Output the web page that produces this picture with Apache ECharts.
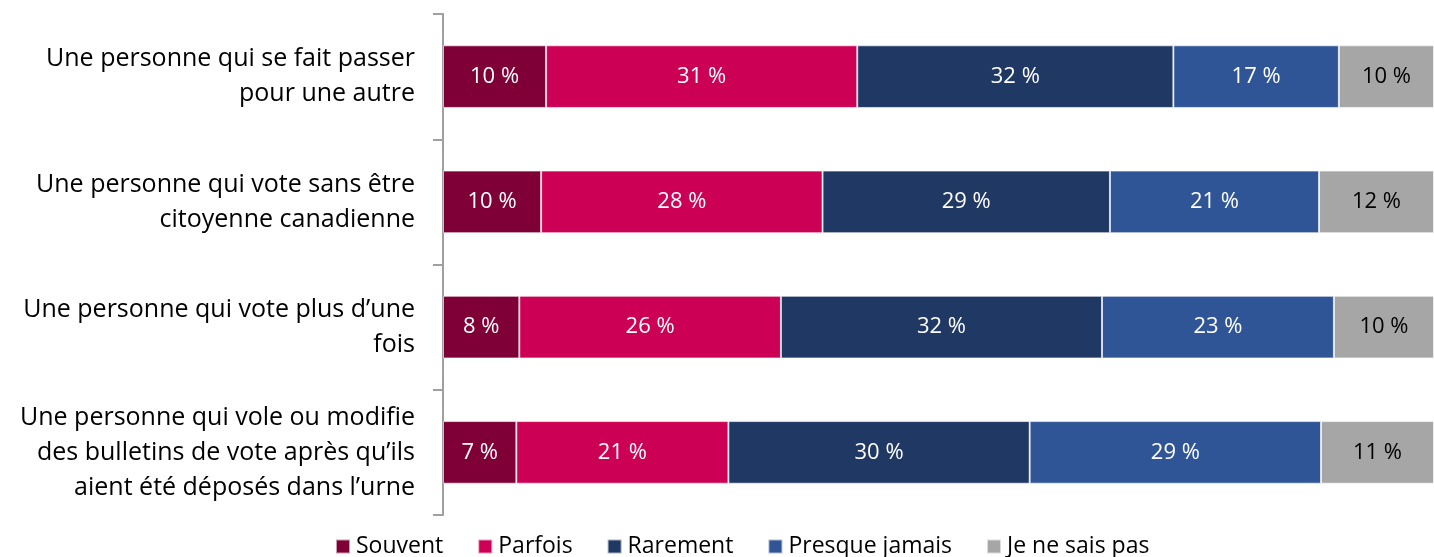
<!DOCTYPE html>
<html>
<head>
<meta charset="utf-8">
<script src="https://cdn.jsdelivr.net/npm/echarts@6/dist/echarts.min.js"></script>
<style>
  html, body { margin: 0; padding: 0; background: #fff; }
  #chart { width: 1434px; height: 557px; }
</style>
</head>
<body>
<div id="chart"></div>
<script>
// --- données ---
const categories = [
  'Une personne qui se fait passer\npour une autre',
  'Une personne qui vote sans être\ncitoyenne canadienne',
  'Une personne qui vote plus d’une\nfois',
  'Une personne qui vole ou modifie\ndes bulletins de vote après qu’ils\naient été déposés dans l’urne'
]
const seriesNames = ['Souvent', 'Parfois', 'Rarement', 'Presque jamais', 'Je ne sais pas']
const souvent = [10.4, 9.9, 7.7, 7.4]
const parfois = [31.4, 28.4, 26.4, 21.4]
const rarement = [31.9, 29.0, 32.4, 30.4]
const presqueJamais = [16.7, 21.1, 23.4, 29.4]
const neSaisPas = [9.6, 11.6, 10.1, 11.4]

const values = [souvent, parfois, rarement, presqueJamais, neSaisPas]
const colors = ['#7F0037', '#CC0055', '#203864', '#2F5597', '#A6A6A6']
const labelColors = ['#fff', '#fff', '#fff', '#fff', '#000']
const font = '"Open Sans", Lato, sans-serif'

const myChart = echarts.init(document.getElementById('chart'))

const option = {
  backgroundColor: '#fff',
  animation: false,
  grid: { left: 443, right: 0, top: 14, bottom: 42 },
  legend: {
    top: 530,
    left: 330,
    itemWidth: 14,
    itemHeight: 14,
    itemGap: 34,
    icon: 'rect',
    textStyle: { fontFamily: font, fontSize: 23, color: '#000', padding: [0, 0, 0, 1] },
    data: seriesNames
  },
  xAxis: {
    type: 'value',
    min: 0,
    max: 100,
    show: false
  },
  yAxis: {
    type: 'category',
    inverse: true,
    data: categories,
    axisLine: { lineStyle: { color: '#A0A0A0', width: 2 } },
    axisTick: { show: true, length: 10, lineStyle: { color: '#A0A0A0', width: 2 } },
    axisLabel: {
      margin: 28,
      align: 'right',
      fontFamily: font,
      fontSize: 25,
      lineHeight: 35,
      color: '#000'
    }
  },
  series: seriesNames.map((name, i) => ({
    name,
    type: 'bar',
    stack: 'total',
    barWidth: '50%',
    data: values[i],
    itemStyle: { color: colors[i], borderColor: 'rgba(255,255,255,0.6)', borderWidth: 1 },
    label: {
      show: true,
      position: 'inside',
      fontFamily: font,
      fontSize: 22,
      color: labelColors[i],
      formatter: p => Math.round(p.value) + ' %'
    }
  }))
}

myChart.setOption(option)
</script>
</body>
</html>
